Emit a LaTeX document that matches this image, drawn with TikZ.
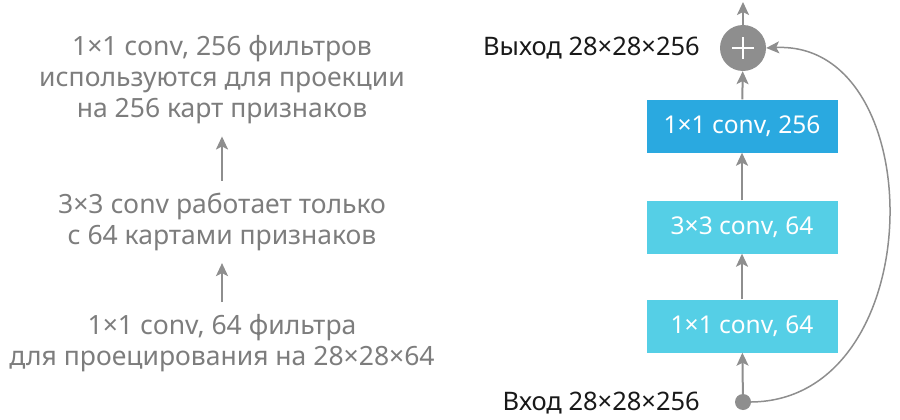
\documentclass[tikz,border=0pt]{standalone}
\usepackage{fontspec}
\setmainfont{Noto Sans}
\usetikzlibrary{positioning,arrows.meta}
\definecolor{notegray}{HTML}{7D7D7D}
\definecolor{linegray}{HTML}{8E8E8E}
\definecolor{convlight}{HTML}{55CFE6}
\definecolor{convdark}{HTML}{2AA9E0}
\tikzset{
  note/.style={text=notegray,align=center,inner sep=0,font=\fontsize{26.5}{31}\selectfont},
  conv/.style={fill=convlight,text=white,minimum width=191,minimum height=53,inner sep=0,font=\fontsize{24.5}{28}\selectfont},
  label/.style={anchor=east,inner sep=0,text=black!90,font=\fontsize{25.5}{28}\selectfont},
  arr/.style={-{Stealth[length=13,width=12,inset=3]},linegray,line width=2}
}
\begin{document}
\begin{tikzpicture}[x=1pt,y=-1pt]
\useasboundingbox (0,0) rectangle (900,420);
% left: what each layer does
\node[note] (top) at (222,80) {1×1 conv, 256 фильтров\\используются для проекции\\на 256 карт признаков};
\node[note] (mid) at (222,222) {3×3 conv работает только\\с 64 картами признаков};
\node[note] (bot) at (222,343) {1×1 conv, 64 фильтра\\для проецирования на 28×28×64};
\draw[arr,shorten <=12,shorten >=12] (mid) -- (top);
\draw[arr,shorten <=12,shorten >=12] (bot) -- (mid);
% right: bottleneck block
\node[conv] (c1) at (742,326) {1×1 conv, 64};
\node[conv] (c2) at (742,227) {3×3 conv, 64};
\node[conv,fill=convdark] (c3) at (742,126) {1×1 conv, 256};
\node[circle,fill=linegray,minimum size=46,inner sep=0] (sum) at (743,48) {};
\draw[white,line width=2.8] (sum.center) ++(-11,0) -- ++(22,0) (sum.center) ++(0,-11) -- ++(0,22);
\node[circle,fill=linegray,minimum size=16,inner sep=0] (in) at (743,402) {};
\coordinate (out) at (743,2);
\node[label] (outlbl) at (700,48) {Выход 28×28×256};
\node[label] (inlbl) at (700,403) {Вход 28×28×256};
\draw[arr] (in) -- (c1);
\draw[arr] (c1) -- (c2);
\draw[arr] (c2) -- (c3);
\draw[arr] (c3) -- (sum);
\draw[arr] (sum) -- (out);
\draw[arr,line width=1.5] (in.east) .. controls (932,400) and (932,40) .. (sum.east);
\end{tikzpicture}
\end{document}
